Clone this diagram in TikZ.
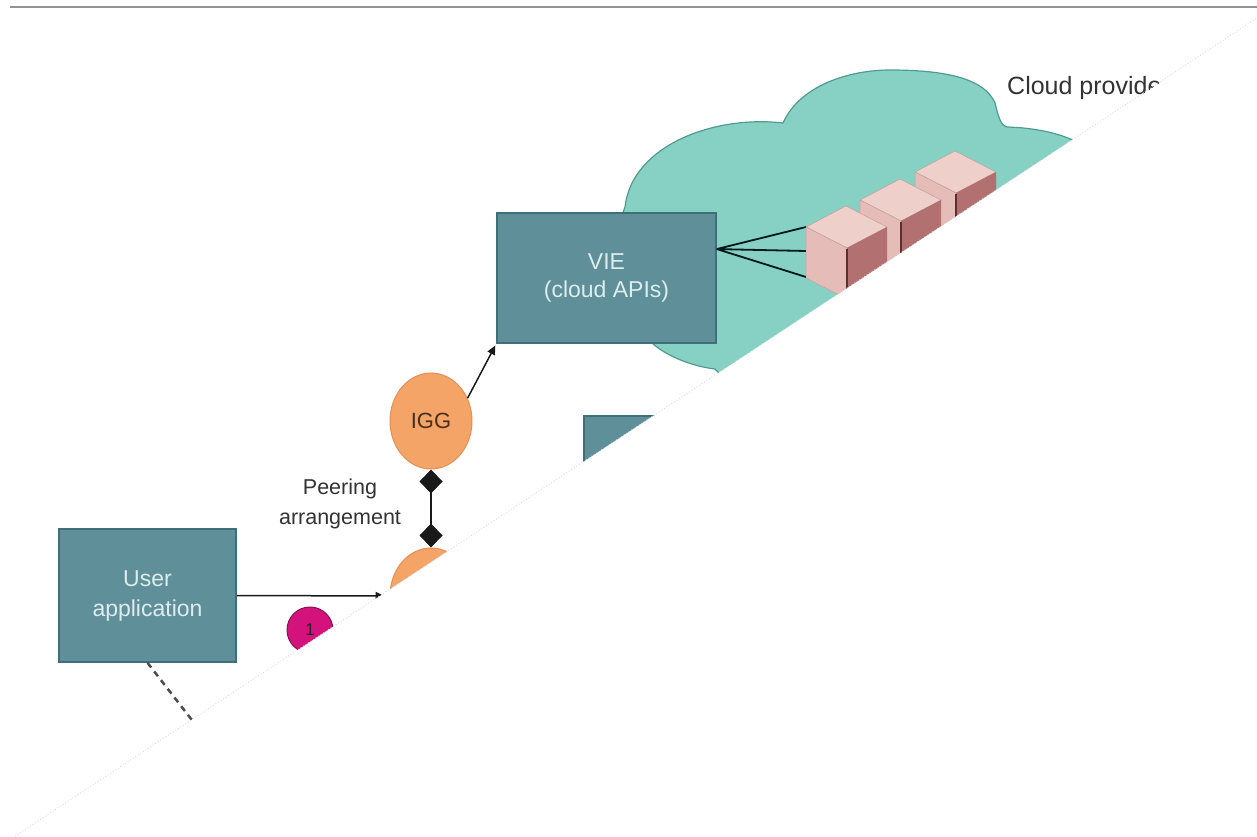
\documentclass[tikz,border=0pt]{standalone}
\usepackage{fontspec}
\setmainfont{Liberation Sans}
\usetikzlibrary{shapes.geometric,arrows.meta,calc}

\definecolor{boxfill}{HTML}{5F8F99}
\definecolor{boxline}{HTML}{3F6F79}
\definecolor{boxtext}{HTML}{DDECEC}
\definecolor{cloudfill}{HTML}{87D0C4}
\definecolor{cloudline}{HTML}{4F9C8F}
\definecolor{gwfill}{HTML}{F5A467}
\definecolor{gwline}{HTML}{E58F55}
\definecolor{gwtext}{HTML}{4A2E1E}
\definecolor{markfill}{HTML}{D3127B}
\definecolor{markline}{HTML}{8B0F50}
\definecolor{cubeleft}{HTML}{E5BCB8}
\definecolor{cubetop}{HTML}{EECFCA}
\definecolor{cuberight}{HTML}{B27070}
\definecolor{cubeedge}{HTML}{5E2E2E}
\definecolor{rulegray}{HTML}{939393}

% one isometric server block; #1,#2 = left corner of its top face
\newcommand\serverblock[2]{%
  \begin{scope}[shift={(#1,#2)}]
    \fill[cubetop, draw=cubeleft!85!black, line width=0.5pt]
      (0,0) -- (40,-21) -- (81,0) -- (41,21) -- cycle;
    \fill[cubeleft, draw=cubeleft!85!black, line width=0.5pt]
      (0,0) -- (41,21) -- (41,72) -- (0,51) -- cycle;
    \fill[cuberight] (41,21) -- (81,0) -- (81,51) -- (41,72) -- cycle;
    \draw[cubeedge, line width=2pt] (41,22) -- (41,72);
  \end{scope}}

\begin{document}
\begin{tikzpicture}[x=1pt,y=-1pt,
  apibox/.style={draw=boxline, line width=1.5pt, fill=boxfill, text=boxtext,
    font=\fontsize{23}{28}\selectfont, align=center, inner sep=0pt},
  gateway/.style={ellipse, draw=gwline, line width=1pt, fill=gwfill,
    minimum width=82pt, minimum height=96pt, inner sep=0pt,
    font=\fontsize{22}{26}\selectfont, text=gwtext},
  stepmark/.style={circle, draw=markline, line width=1pt, fill=markfill,
    minimum size=46pt, inner sep=0pt, font=\fontsize{17}{20}\selectfont, text=black!85},
  label/.style={inner sep=0pt, text=black!80, font=\fontsize{21.5}{30}\selectfont},
  link/.style={line width=1.5pt, black!90},
  arrowlink/.style={link, -{Triangle[length=9pt,width=8pt]}},
  peerlink/.style={link, {Diamond[length=24pt,width=23pt]}-{Diamond[length=24pt,width=23pt]}},
]
\useasboundingbox (0,0) rectangle (1257,837);

% header rule
\draw[rulegray, line width=2.2pt] (10,7) -- (1257,7);

\begin{scope}
  \clip (0,-1) -- (1257,-1) -- (1257,18) -- (0,846) -- cycle;

  % provider cloud
  \path[fill=cloudfill, draw=cloudline, line width=1.2pt]
    (715,369) .. controls (690,366) and (665,355) .. (652,343)
    .. controls (615,310) and (612,240) .. (625,207)
    .. controls (632,145) and (715,115) .. (783,123)
    .. controls (800,85) and (850,70) .. (890,70)
    .. controls (950,70) and (985,80) .. (995,103)
    .. controls (998,115) and (1000,125) .. (1007,127)
    .. controls (1040,128) and (1070,135) .. (1090,150)
    -- (1300,300) -- (900,560) -- cycle;

  \node[label, anchor=base west, font=\fontsize{25}{28}\selectfont] (provider) at (1007,95) {Cloud provider};

  % virtual infrastructure endpoint and its server blocks
  \node[apibox, minimum width=219pt, minimum height=130pt] (vie) at (606.5,278) {VIE\\(cloud APIs)};
  \coordinate (fan) at ($(vie.north east)!0.28!(vie.south east)$);
  \coordinate (srvA) at (806,227);
  \coordinate (srvB) at (806,251);
  \coordinate (srvC) at (806,277);
  \draw[line width=1.8pt, black!80!teal] (fan) -- (srvA) (fan) -- (srvB) (fan) -- (srvC);
  \serverblock{915}{172}
  \serverblock{860}{200}
  \serverblock{806}{227}

  % lower box
  \node[apibox, anchor=north west, minimum width=219pt, minimum height=130pt] (lower) at (583,415) {};

  % gateways
  \node[gateway] (igg) at (431,421) {IGG};
  \node[gateway] (igg2) at (431,596) {};
  \draw[peerlink] (igg) -- (igg2);
  \draw[arrowlink, shorten >=2pt] (igg.32) -- (vie.south west);
  \node[label, align=center] (peer) at (340,504) {Peering\\arrangement};

  % user side
  \node[apibox, minimum width=177pt, minimum height=133pt, font=\fontsize{23}{30}\selectfont] (user) at (147.5,595.5) {User\\application};
  \draw[arrowlink, shorten >=5pt] (user.east) -- (igg2.west);
  \node[stepmark] (stepone) at (310,630) {1};
  \coordinate (dashend) at (240,782);
  \draw[black!70, line width=2.5pt, dash pattern=on 6pt off 5pt] (user.south) -- (dashend);
\end{scope}

% faint edge of the cut
\draw[gray!30, line width=0.8pt, dash pattern=on 1pt off 2pt] (0,846) -- (1257,18);
\end{tikzpicture}
\end{document}
